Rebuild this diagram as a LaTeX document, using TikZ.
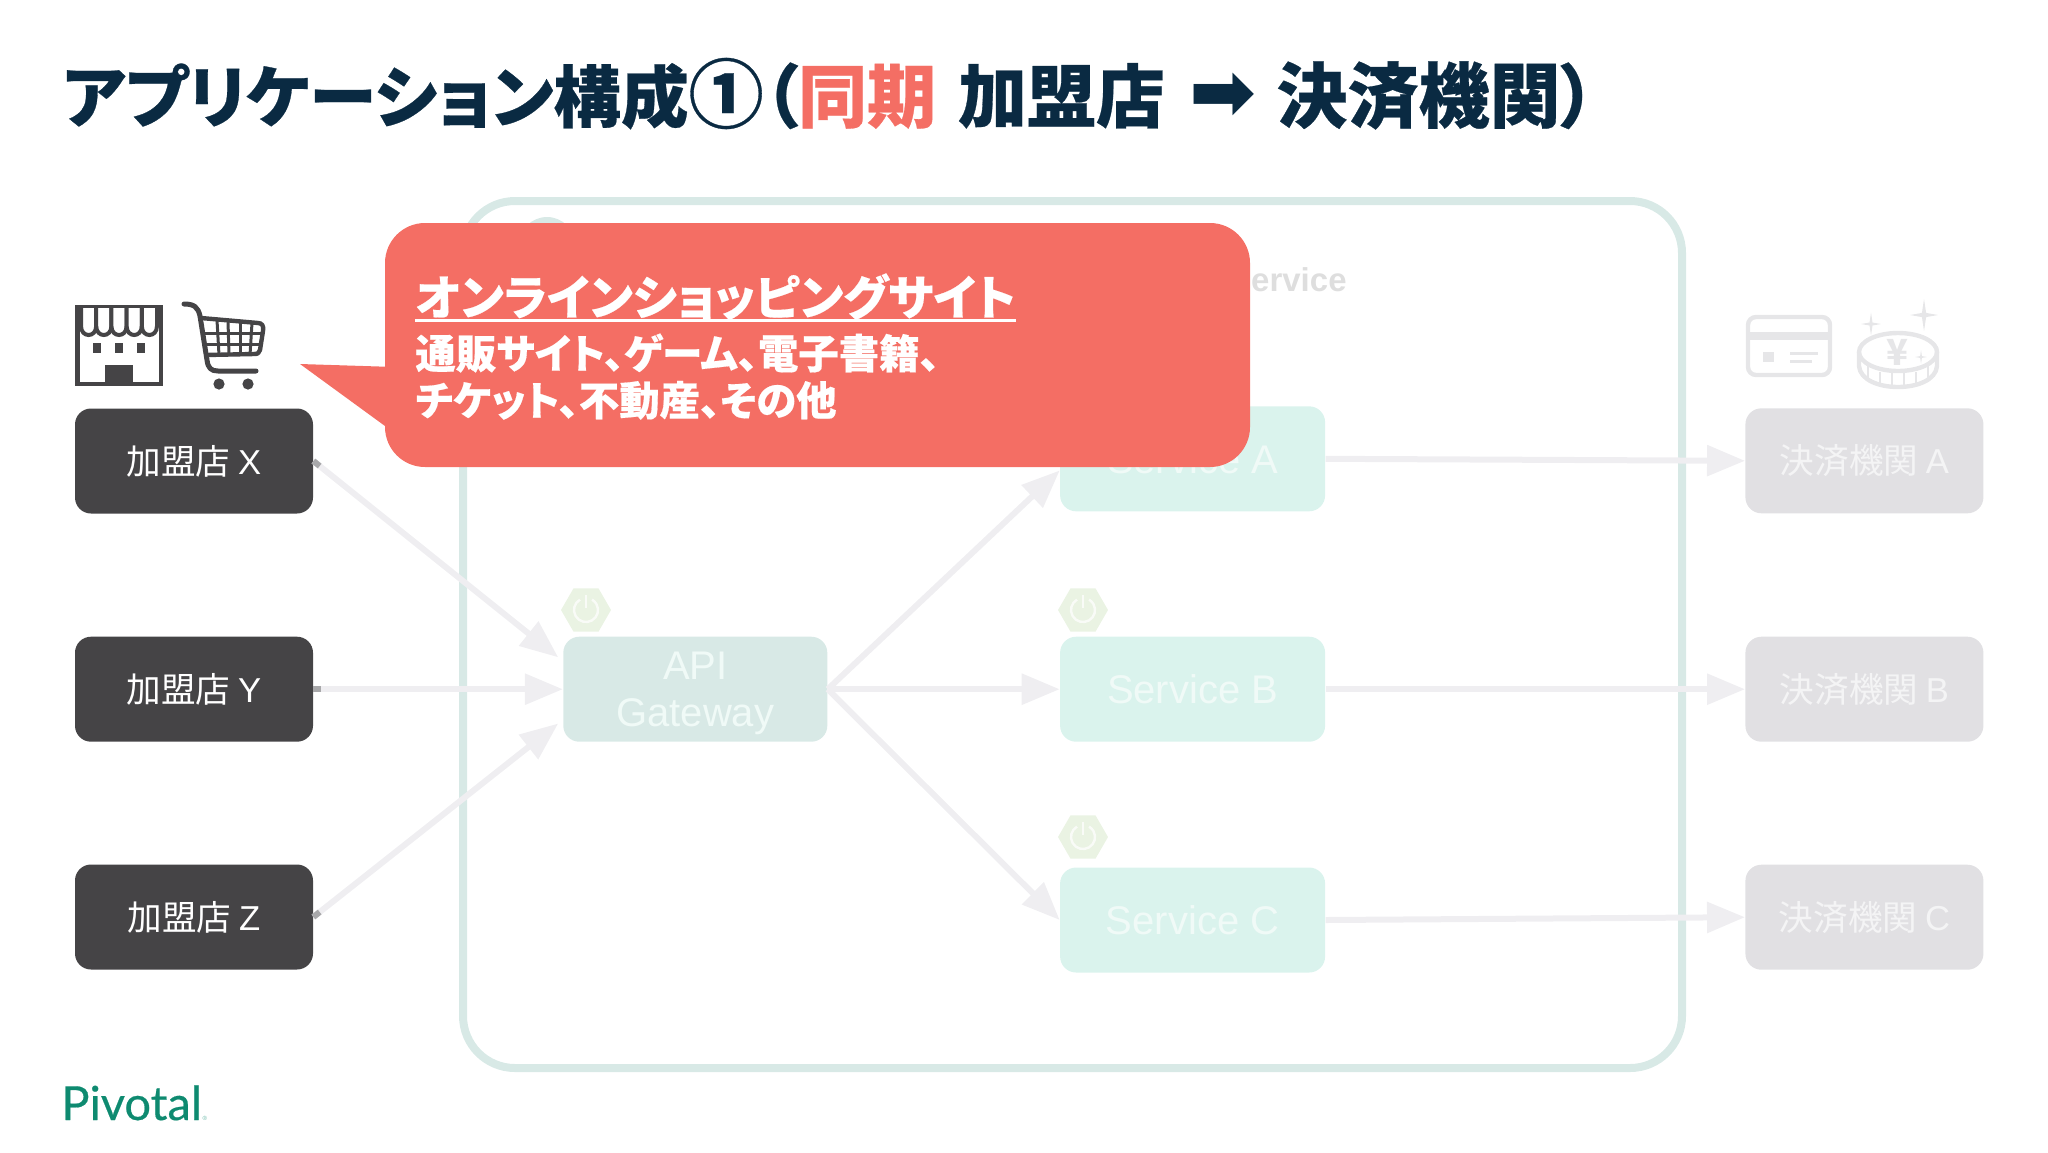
\documentclass[tikz,border=0pt]{standalone}
\usepackage{fontspec}
\usetikzlibrary{positioning}
\usetikzlibrary{arrows.meta}
\usetikzlibrary{shapes.geometric}
\setmainfont{Liberation Sans}
\newfontfamily\cjk[RawFeature=+palt]{Noto Sans CJK JP}
\newfontfamily\dejavu{DejaVu Sans}
\newfontfamily\logofont[FakeBold=0.4]{Lato}
\definecolor{navy}{HTML}{0A2A42}
\definecolor{coral}{HTML}{F46E64}
\definecolor{darkbox}{HTML}{454446}
\definecolor{paleicon}{HTML}{E6E6E8}
\definecolor{hexgreen}{HTML}{EAF3E3}
\definecolor{greybox}{HTML}{E1E0E3}
\definecolor{greytext}{HTML}{F4F4F5}
\definecolor{mint}{HTML}{DAF3ED}
\definecolor{minttext}{HTML}{F0FAF7}
\definecolor{gwteal}{HTML}{D8E9E6}
\definecolor{flowgrey}{HTML}{EFEEF1}
\definecolor{stubgrey}{HTML}{A8A8AA}
\definecolor{logogreen}{HTML}{0E8A70}
\newcommand{\powerhex}[3]{
\node[draw=none,fill=hexgreen,regular polygon,regular polygon sides=6,minimum size=25pt,inner sep=0pt](#1) at (#2,#3){};
\draw[white!70!hexgreen,line width=1.2pt] ({#2-6},{#3-10.4}) arc[start angle=120,end angle=420,radius=6pt];
\draw[white!70!hexgreen,line width=1.2pt] (#2,{#3-15}) -- (#2,{#3-2});
}
\newcommand{\sparkle}[3]{
\fill[paleicon] ({#1-#3},#2) -- ({#1-.15*#3},{#2-.15*#3}) -- (#1,{#2-1.15*#3}) -- ({#1+.15*#3},{#2-.15*#3}) -- ({#1+#3},#2) -- ({#1+.15*#3},{#2+.15*#3}) -- (#1,{#2+1.15*#3}) -- ({#1-.15*#3},{#2+.15*#3}) -- cycle;
}
\tikzset{
boxbase/.style={rounded corners=8pt,minimum width=119pt,minimum height=52.5pt,inner sep=0pt,font=\cjk\fontsize{17.3}{20}\selectfont},
merchant/.style={boxbase,fill=darkbox,text=white},
bank/.style={boxbase,fill=greybox,text=greytext},
service/.style={boxbase,minimum width=132.5pt,fill=mint,text=minttext,font=\fontsize{20}{23.5}\selectfont,align=center},
flow/.style={draw=flowgrey,line width=3pt,-{Triangle[length=19pt,width=15pt]}},
stubline/.style={draw=stubgrey,line width=3pt,dash pattern=on 4pt off 1000pt},
heavy/.style={inner sep=0pt,anchor=base west,font=\cjk\bfseries\addfontfeature{FakeBold=0.4}},
}
\begin{document}
\begin{tikzpicture}[x=.5pt,y=-.5pt]
\useasboundingbox (0,0) rectangle (2048,1152);
\node[heavy,text=navy](title) at (62,122){\fontsize{34.5}{38}\selectfont{\fontsize{33.8}{38}\selectfont アプリケーション構成}{\fontsize{37.5}{38}\selectfont ①}（\textcolor{coral}{同期}\hspace{3pt} 加盟店\hspace{4.5pt} {\dejavu\bfseries\fontsize{40}{38}\selectfont\raisebox{1.5pt}{➡}}\hspace{2pt} {\fontsize{35.5}{38}\selectfont 決済機関}）};
\node[draw=gwteal,line width=4pt,rounded corners=26pt,minimum width=609.5pt,minimum height=433.5pt,inner sep=0pt](platform) at (1072.5,634.5){};
\fill[gwteal] (547,245) circle (14pt);
\node[anchor=east,text=black!13,inner sep=0pt,font=\bfseries\fontsize{16.5}{20}\selectfont](platformname) at (1347,280){ervice};
\node[merchant](mercX) at (194,461){加盟店 {\rmfamily X}};
\node[merchant,below = 61.2pt of mercX](mercY){加盟店 {\rmfamily Y}};
\node[merchant,below = 61pt of mercY](mercZ){加盟店 {\rmfamily Z}};
\node[service,minimum width=132pt,fill=gwteal,right = 124.75pt of mercY](gw){\rule{0pt}{18.3pt}API\\Gateway};
\node[service,right = 116pt of gw](svcB){Service B};
\node[service,above = 62.3pt of svcB](svcA){Service A};
\node[service,below = 62.5pt of svcB](svcC){Service C};
\node[bank,right = 209.75pt of svcB](bankB){決済機関 {\rmfamily B}};
\node[bank,above = 61.3pt of bankB](bankA){決済機関 {\rmfamily A}};
\node[bank,below = 61.1pt of bankB](bankC){決済機関 {\rmfamily C}};
\powerhex{hexGw}{586}{610}
\powerhex{hexB}{1083}{610}
\powerhex{hexC}{1083}{837}
\path[flow,shorten >=3pt] (mercX.east) -- (gw.168);
\path[flow] (mercY.east) -- (gw.west);
\path[flow,shorten >=3pt] (mercZ.east) -- (gw.193);
\path[stubline] (mercX.east) -- (gw.168);
\path[stubline] (mercY.east) -- (gw.west);
\path[stubline] (mercZ.east) -- (gw.193);
\path[flow] (gw.east) -- (svcA.185);
\path[flow] (gw.east) -- (svcB.west);
\path[flow] (gw.east) -- (svcC.west);
\path[flow] (svcA.east) -- (bankA.west);
\path[flow] (svcB.east) -- (bankB.west);
\path[flow] (svcC.east) -- (bankC.west);
\fill[darkbox] (75,305) rectangle (163,386);
\fill[white] (79.5,309.5) rectangle (158.5,381.5);
\foreach \sx in {81,96.2,111.4,126.6,141.8}{
\filldraw[fill=white,draw=darkbox,line width=2pt] (\sx,308) -- (\sx,326) .. controls (\sx,338) and ({\sx+15.2},338) .. ({\sx+15.2},326) -- ({\sx+15.2},308);
}
\foreach \sx in {93,115,137}{
\fill[darkbox] (\sx,343) rectangle ({\sx+8},353);
}
\fill[darkbox] (105,365) rectangle (133,382);
\draw[darkbox,line width=2.5pt,line cap=round,line join=round] (184,304) .. controls (194,304) and (198,307) .. (200,316) -- (207,360) .. controls (208,368) and (211,371) .. (218,371) -- (256,371);
\draw[darkbox,line width=2.2pt,line join=round] (201,318) -- (258,323) .. controls (262,323) and (264,326) .. (263,331) -- (260,350) .. controls (259,353) and (258,354) .. (254,354) -- (206,355);
\draw[darkbox,line width=1.5pt] (203,333) -- (263,333);
\draw[darkbox,line width=1.5pt] (205,344) -- (261,344);
\draw[darkbox,line width=1.5pt] (217,320) -- (219,355);
\draw[darkbox,line width=1.5pt] (228,321) -- (229,355);
\draw[darkbox,line width=1.5pt] (240,322) -- (240,355);
\draw[darkbox,line width=1.5pt] (252,323) -- (250,355);
\fill[darkbox] (219,384) circle (2.8pt);
\fill[darkbox] (248,384) circle (2.8pt);
\draw[paleicon,line width=2.2pt,rounded corners=4pt] (1748,317) rectangle (1830,375);
\fill[paleicon] (1747,332) rectangle (1831,340);
\fill[paleicon] (1763,352) rectangle (1774,362);
\draw[paleicon,line width=1.5pt] (1790,353) -- (1818,353);
\draw[paleicon,line width=1.5pt] (1790,361) -- (1812,361);
\draw[paleicon,line width=2.2pt] (1898,352) ellipse[x radius=39,y radius=19];
\draw[paleicon,line width=2.2pt] (1859,352) -- (1859,366) .. controls (1861,394) and (1935,394) .. (1937,366) -- (1937,352);
\foreach \rx/\ry in {1868/366,1880/372,1892/373,1904/373,1916/372,1928/366}{
\draw[paleicon,line width=1.3pt] (\rx,\ry) -- (\rx,{\ry+15});
}
\node[text=paleicon,inner sep=0pt,font=\cjk\bfseries\fontsize{18}{18}\selectfont](yen) at (1897,352){¥};
\sparkle{1924}{315}{14}
\sparkle{1871}{324}{10}
\sparkle{1921}{357}{6}
\coordinate (calltip) at (300,364);
\fill[coral] (calltip) -- (395,367) -- (395,426) -- (385,426) -- cycle;
\node[fill=coral,rounded corners=20pt,minimum width=432.5pt,minimum height=122pt,inner sep=0pt](callout) at (817.5,345){};
\node[heavy,text=white](callhead) at (415,315){\fontsize{23.7}{26}\selectfont オンラインショッピングサイト};
\draw[white,line width=1.7pt] (callhead.south west) -- (callhead.south east);
\node[heavy,text=white](callone) at (415,368.5){\fontsize{20.2}{22}\selectfont 通販サイト、ゲーム、電子書籍、};
\node[heavy,text=white](calltwo) at (415,415.5){\fontsize{20.2}{22}\selectfont チケット、不動産、その他};
\node[anchor=base west,inner sep=0pt,text=logogreen,font=\logofont\fontsize{23.5}{26}\selectfont](logo) at (61,1120){Pivotal};
\node[anchor=base west,inner sep=0pt,text=logogreen!60,font=\fontsize{3}{3}\selectfont](logomark) at (logo.base east){®};
\end{tikzpicture}
\end{document}
